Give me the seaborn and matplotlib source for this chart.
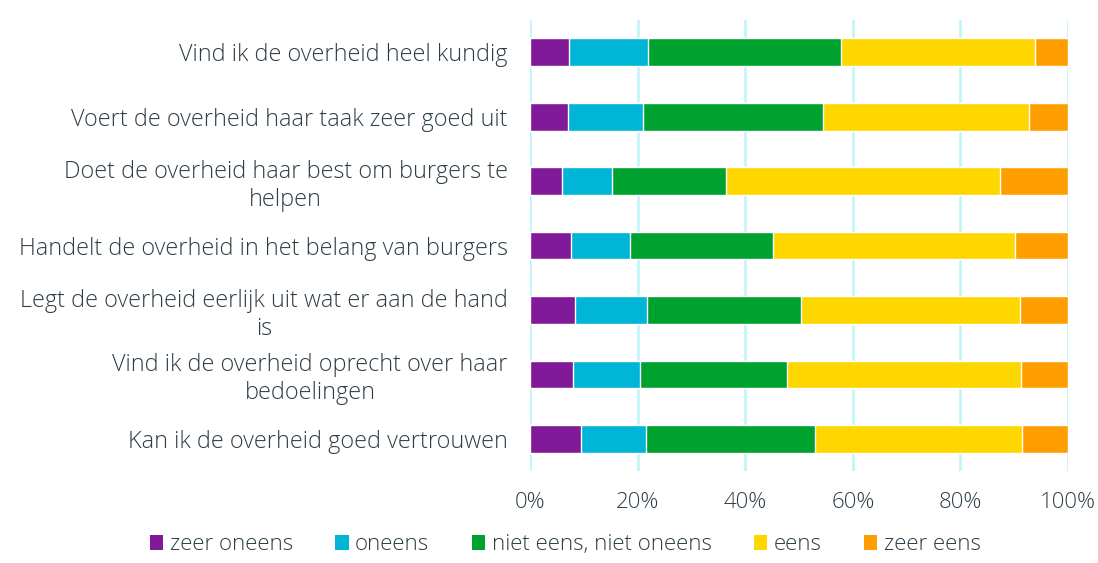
import matplotlib
matplotlib.use("Agg")
import matplotlib.pyplot as plt
import seaborn as sns
import pandas as pd
from matplotlib.patches import Patch
from matplotlib.ticker import PercentFormatter

statements = [
    "Vind ik de overheid heel kundig",
    "Voert de overheid haar taak zeer goed uit",
    "Doet de overheid haar best om burgers te\nhelpen",
    "Handelt de overheid in het belang van burgers",
    "Legt de overheid eerlijk uit wat er aan de hand\nis",
    "Vind ik de overheid oprecht over haar\nbedoelingen",
    "Kan ik de overheid goed vertrouwen",
]

answers = ["zeer oneens", "oneens", "niet eens, niet oneens", "eens", "zeer eens"]
colors = ["#801a98", "#00b5d5", "#00a22f", "#ffd700", "#ff9e00"]

zeer_oneens = [7.3, 7.1, 6.0, 7.7, 8.4, 8.0, 9.4]
oneens = [14.6, 13.9, 9.3, 10.8, 13.4, 12.4, 12.1]
neutraal = [35.9, 33.4, 21.1, 26.6, 28.6, 27.4, 31.5]
eens = [36.0, 38.4, 50.9, 45.0, 40.6, 43.4, 38.4]
zeer_eens = [6.2, 7.2, 12.7, 9.9, 9.0, 8.8, 8.6]

df = pd.DataFrame({
    "statement": statements,
    "zeer oneens": zeer_oneens,
    "oneens": oneens,
    "niet eens, niet oneens": neutraal,
    "eens": eens,
    "zeer eens": zeer_eens,
})
# normalise each row to 100 and build cumulative sums for stacking
df[answers] = df[answers].div(df[answers].sum(axis=1), axis=0) * 100
cum = df[answers].cumsum(axis=1)
cum["statement"] = df["statement"]

sns.set_theme(style="white")
plt.rcParams["font.family"] = ["Open Sans", "DejaVu Sans"]
text_color = "#2e3d45"

fig = plt.figure(figsize=(10.98, 5.63), dpi=100)
ax = fig.add_axes([0.4827, 0.1634, 0.49, 0.801])

# draw from the right end back to the left so every segment is visible
for answer, color in reversed(list(zip(answers, colors))):
    sns.barplot(data=cum, x=answer, y="statement", order=statements,
                color=color, width=0.43, saturation=1, ax=ax, zorder=3)

ax.set_xlim(0, 100)
ax.set_xticks([0, 20, 40, 60, 80, 100])
ax.xaxis.set_major_formatter(PercentFormatter(decimals=0))
ax.set_xlabel("")
ax.set_ylabel("")
ax.grid(axis="x", color="#c2f5fa", linewidth=2, zorder=0)
ax.grid(axis="y", visible=False)
sns.despine(ax=ax, left=True, bottom=True)
ax.tick_params(axis="x", length=0, pad=15, labelsize=16, labelcolor=text_color)
ax.tick_params(axis="y", length=0, pad=16, labelsize=16.8, labelcolor=text_color)
for lbl in ax.get_xticklabels() + ax.get_yticklabels():
    lbl.set_fontweight(300)
for lbl in ax.get_yticklabels():
    lbl.set_multialignment("center")
    lbl.set_linespacing(1.2)

handles = [Patch(facecolor=c, edgecolor="none", label=a) for a, c in zip(answers, colors)]
leg = fig.legend(handles=handles, loc="lower center", bbox_to_anchor=(0.515, -0.022),
                 ncol=5, frameon=False, fontsize=16, handlelength=0.6, handleheight=0.6,
                 handletextpad=0.3, columnspacing=1.9)
for t in leg.get_texts():
    t.set_color(text_color)
    t.set_fontweight(300)

fig.savefig("out.png", dpi=100)
